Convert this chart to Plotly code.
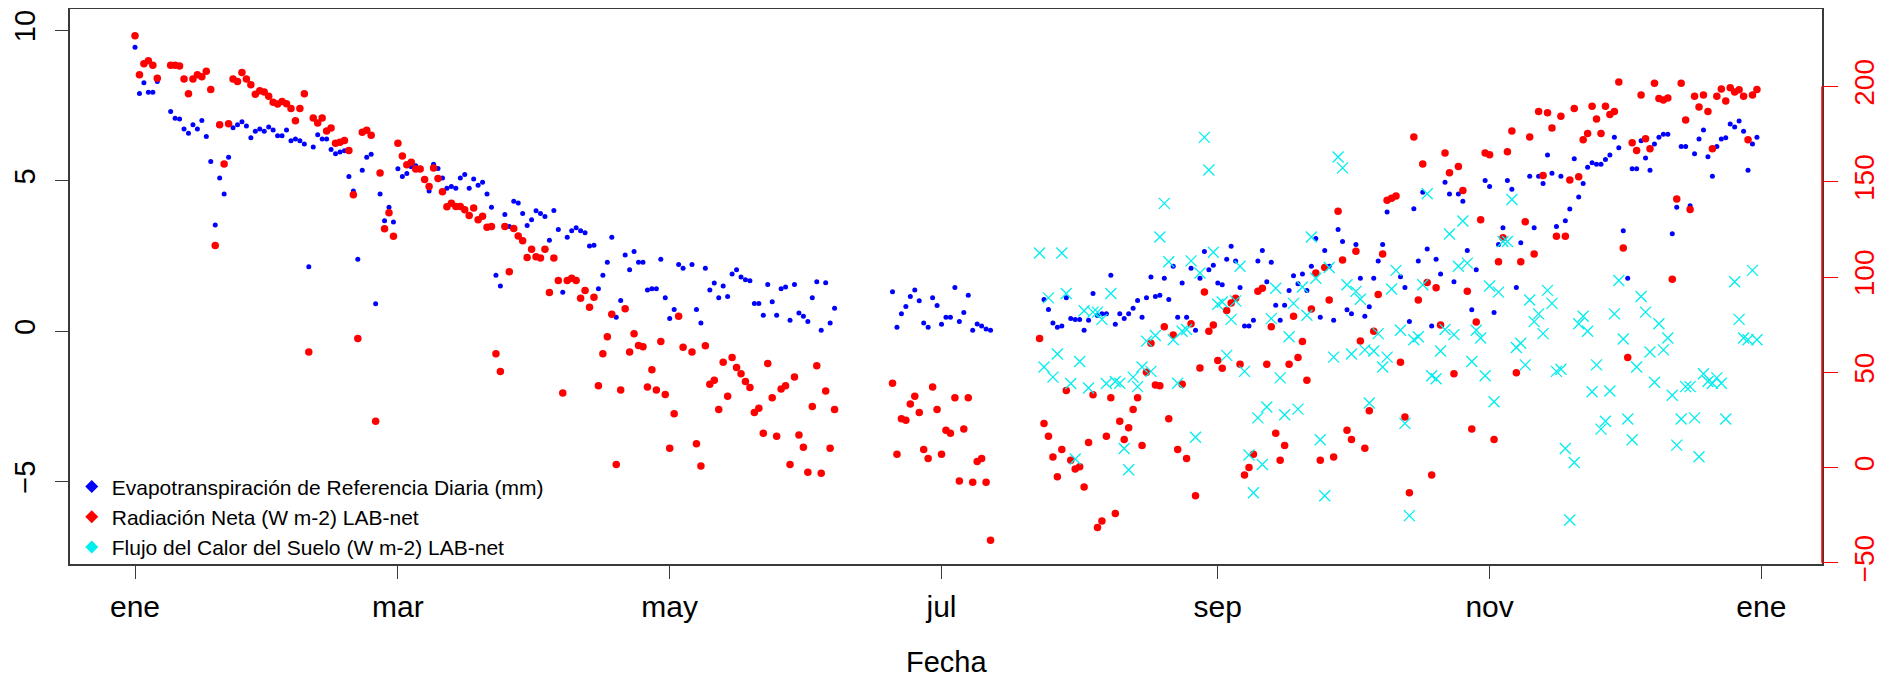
import pandas as pd
import plotly.graph_objects as go

# ---------------- data (day of year 0 = 1 Jan, value) ----------------
et_day = [0,1,2,3,4,5,
          8,9,10,11,12,13,14,15,16,17,18,19,20,21,22,23,24,25,26,27,28,29,30,31,32,33,34,35,36,37,38,39,40,
          41,42,43,44,45,46,47,48,49,50,51,52,53,54,55,56,57,58,59,60,61,62,63,64,
          66,67,68,69,70,71,72,73,74,75,76,77,78,79,80,81,82,83,84,85,86,87,88,89,90,91,92,93,94,95,
          96,97,98,99,100,101,102,103,104,105,106,107,108,109,110,111,112,113,114,115,116,117,118,119,
          120,121,122,123,125,126,127,128,129,130,131,132,133,134,135,136,137,138,139,140,141,142,143,
          144,145,146,147,148,149,150,151,152,153,154,155,156,157,
          170,171,172,173,174,175,176,177,178,179,180,181,182,183,184,185,186,187,188,189,190,191,192,
          204,205,206,207,208,209,210,211,212,213,214,215,216,217,218,219,220,221,222,223,224,225,226,
          227,228,229,230,231,232,233,234,235,236,237,238,239,240,241,242,243,244,245,246,247,248,249,
          250,251,252,253,254,255,256,257,258,259,260,261,262,263,264,265,266,267,268,269,270,271,272,
          273,274,275,276,277,278,279,280,281,284,285,286,287,288,289,290,291,292,293,294,295,296,297,
          298,299,300,301,303,304,305,306,307,308,309,310,311,313,314,315,316,317,318,319,320,321,322,
          323,324,325,326,327,328,329,330,331,332,333,334,335,336,337,338,339,340,341,342,343,344,345,
          346,347,348,349,350,351,352,353,354,355,356,357,358,359,360,361,362,363,364]
et_mm = [9.44,7.90,8.26,7.94,7.94,8.30,
         7.30,7.08,7.05,6.72,6.58,6.86,6.72,7.00,6.47,5.64,3.53,5.09,4.56,5.78,6.76,6.86,6.96,6.82,6.43,6.65,6.72,6.65,6.79,6.69,6.50,6.50,6.69,6.33,6.39,6.33,6.22,2.14,6.12,
         6.53,6.39,6.39,6.04,5.90,5.96,6.00,5.14,4.66,2.39,5.35,5.78,5.88,0.91,4.56,3.67,4.12,3.63,5.40,5.14,5.24,5.47,5.50,5.42,
         4.66,5.55,5.41,5.09,4.75,4.81,4.75,5.09,5.21,4.75,5.06,4.85,4.95,4.56,4.12,1.86,1.50,3.88,3.48,4.32,4.26,3.91,3.51,3.70,4.00,3.91,3.81,3.02,4.01,3.38,
         1.29,3.12,3.34,3.44,3.34,3.27,2.83,2.86,1.41,1.86,2.29,3.12,0.46,1.02,2.53,2.04,2.65,2.29,2.29,1.37,1.41,1.41,2.39,1.11,
         0.42,0.72,2.22,2.09,2.22,0.72,0.27,2.09,1.37,1.60,1.11,1.50,1.15,1.90,2.04,1.80,1.71,1.68,0.92,0.92,0.53,1.55,0.98,
         0.53,1.41,1.47,0.36,1.55,0.60,0.50,0.32,1.11,1.64,0.03,1.61,0.27,0.76,
         1.31,0.13,0.58,0.82,1.15,1.37,1.01,0.27,0.13,1.11,0.85,0.23,0.46,0.46,1.45,0.32,0.62,1.19,0.03,0.24,0.17,0.07,0.03,
         1.05,0.72,0.27,0.13,0.17,1.11,0.42,0.39,0.39,0.03,0.36,1.25,0.52,0.58,0.58,1.86,0.23,0.58,0.42,0.58,0.76,1.02,0.46,
         1.11,1.80,1.15,1.19,1.76,1.05,2.16,0.46,1.60,0.46,2.09,0.03,1.76,2.65,2.04,2.19,1.60,1.54,2.39,2.82,2.33,1.45,0.17,
         0.17,0.36,2.33,2.68,1.64,2.29,0.86,0.36,0.86,1.35,1.84,1.58,1.90,1.35,2.16,3.08,0.46,2.68,2.16,0.36,3.38,2.98,0.71,
         0.58,2.88,1.76,0.50,0.81,1.76,2.33,2.88,3.96,1.81,1.45,0.32,4.07,2.33,4.62,2.73,0.17,2.39,1.90,4.95,4.56,1.64,4.56,
         4.32,2.68,0.71,2.04,5.01,4.81,0.62,2.88,3.44,5.01,4.72,1.45,2.94,5.15,3.44,5.15,4.91,5.86,5.25,3.48,5.15,3.67,4.06,
         5.73,4.46,4.91,5.45,5.60,5.55,5.55,5.71,5.86,6.45,6.10,3.34,1.76,5.40,5.40,6.33,5.76,5.35,6.22,6.45,6.55,6.55,3.24,
         4.12,6.14,6.14,4.17,5.90,6.39,6.69,5.80,5.15,6.14,6.39,6.43,6.89,6.79,6.99,6.65,5.35,6.22,6.45]

rn_day = [0,1,2,3,4,5,
          8,9,10,11,12,13,14,15,16,17,18,19,20,21,22,23,24,25,26,27,28,29,30,31,32,33,34,35,36,37,38,39,40,
          41,42,43,44,45,46,47,48,49,50,51,52,53,54,55,56,57,58,59,60,61,62,63,64,65,66,67,68,69,70,
          71,72,73,74,75,76,77,78,79,80,81,82,83,84,85,86,87,88,89,90,91,92,93,94,95,96,97,98,99,100,
          101,102,103,104,105,106,107,108,109,110,111,112,113,114,115,116,117,118,119,120,121,122,123,
          125,126,127,128,129,130,131,132,133,134,135,136,137,138,139,140,141,142,143,144,145,146,147,
          148,149,150,151,152,153,154,155,156,157,
          170,171,172,173,174,175,176,177,178,179,180,181,182,183,184,185,186,187,188,189,190,191,192,
          203,204,205,206,207,208,209,210,211,212,213,214,215,216,217,218,219,220,221,222,223,224,225,
          226,227,228,229,230,231,232,233,234,235,236,237,238,239,240,241,242,243,244,245,246,247,248,
          249,250,251,252,253,254,255,256,257,258,259,260,261,262,263,264,265,266,267,268,269,270,271,
          272,273,274,275,276,277,278,279,280,281,282,283,284,285,286,287,288,289,290,291,292,293,294,
          295,296,297,298,299,300,301,302,303,304,305,306,307,308,309,310,311,312,313,314,315,316,317,
          318,319,320,321,322,323,324,325,326,327,328,329,330,331,332,333,334,335,336,337,338,339,340,
          341,342,343,344,345,346,347,348,349,350,351,352,353,354,355,356,357,358,359,360,361,362,363,364]
rn_wm2 = [226.7,206.2,211.9,213.5,211.2,204.4,
          211.2,211.2,210.8,204.0,196.2,204.0,206.2,205.1,208.0,198.5,116.6,179.9,159.4,180.5,204.0,202.6,207.4,204.0,201.0,196.0,197.8,197.1,194.9,191.7,190.8,192.1,191.0,188.5,182.1,188.5,196.2,60.7,183.5,
          180.8,183.5,176.7,178.3,170.3,170.8,171.7,166.4,143.2,67.8,176.0,177.1,174.4,24.3,154.6,125.3,133.7,121.4,170.3,163.5,158.9,160.3,156.7,156.7,151.2,147.6,157.3,151.7,144.8,136.9,
          138.7,137.1,137.1,135.3,132.3,136.2,130.1,131.9,126.2,126.6,59.8,50.5,126.6,102.8,125.5,121.6,119.1,110.3,114.6,110.7,110.0,114.6,91.9,110.0,98.2,39.1,98.2,99.4,98.2,88.9,
          93.0,84.1,89.4,43.0,59.8,68.7,80.5,1.6,40.7,83.4,60.7,70.3,64.1,63.4,42.3,51.4,40.7,66.2,38.4,10.2,28.2,79.4,63.2,
          60.7,12.5,0.9,63.9,43.7,45.9,30.5,55.3,37.5,57.8,52.5,49.3,45.2,42.1,28.9,31.2,18.0,54.6,36.6,16.4,41.2,43.0,1.6,
          47.5,17.1,10.7,-2.5,32.1,53.4,-3.0,40.2,10.2,30.5,
          44.3,7.0,25.7,24.8,33.4,37.5,28.9,9.5,4.8,42.3,30.5,7.0,19.6,18.0,36.6,-7.0,20.2,36.6,-7.7,3.2,4.8,-7.7,-38.2,
          67.8,23.2,16.4,5.5,-4.8,9.5,40.5,3.9,-0.7,0.5,-10.2,13.2,38.2,-31.4,-28.0,16.4,36.6,-24.1,24.3,14.8,20.9,30.5,36.6,
          11.6,50.0,65.3,43.4,43.0,73.9,25.7,69.6,9.5,43.7,4.8,75.5,-14.8,52.3,92.1,71.6,74.8,56.2,52.1,82.5,86.4,88.9,54.3,
          -3.9,0.0,7.0,92.5,94.1,54.3,73.9,18.0,3.9,11.6,54.3,79.4,57.8,66.2,45.9,83.2,102.1,3.9,105.0,88.0,5.5,134.6,108.9,
          19.6,14.8,113.5,66.4,10.2,29.8,71.6,90.9,112.1,140.3,141.4,142.6,55.3,26.6,-13.2,173.5,88.0,159.4,97.1,-3.9,94.4,74.8,165.1,
          154.8,49.3,158.0,145.5,92.5,20.2,76.4,130.1,165.1,164.2,14.8,108.0,120.7,165.8,176.7,49.8,108.0,129.1,173.5,112.1,186.9,153.3,186.2,
          178.3,121.4,184.4,121.4,151.0,188.5,152.6,172.1,175.3,189.6,183.0,175.3,189.6,185.3,186.9,202.4,115.3,57.8,170.5,166.4,195.5,172.6,167.3,
          201.7,193.7,193.0,194.0,98.9,141.0,201.7,182.4,135.5,194.9,189.2,195.5,186.9,167.3,194.9,198.7,192.4,199.4,197.1,198.3,194.9,172.1,195.5,198.5]

g_day = [203,204,205,206,207,208,209,210,211,212,213,214,215,216,217,218,219,220,221,222,223,224,225,
         226,227,228,229,230,231,232,233,234,235,236,237,238,239,240,241,242,243,244,245,246,247,248,
         249,250,251,252,253,254,255,256,257,258,259,260,261,262,263,264,265,266,267,268,269,270,271,
         272,273,274,275,276,277,278,279,280,281,282,283,284,285,286,287,288,289,290,291,292,293,294,
         295,296,297,298,299,300,301,302,303,304,305,306,307,308,309,310,311,312,313,314,315,316,317,
         318,319,320,321,322,323,324,325,326,327,328,329,330,331,332,333,334,335,336,337,338,339,340,
         341,342,343,344,345,346,347,348,349,350,351,352,353,354,355,356,357,359,360,361,362,363,364]
g_wm2 = [112.6,52.8,89.1,47.5,59.6,112.6,91.4,44.1,4.5,55.7,82.3,41.8,81.6,81.6,77.8,44.1,91.4,45.2,44.3,10.0,-1.1,47.5,42.5,
         52.8,66.4,50.5,69.3,121.0,138.7,108.0,67.1,44.3,71.6,72.5,108.5,15.9,102.1,173.3,156.2,113.0,85.7,86.9,58.9,77.8,87.5,105.7,
         50.5,6.6,-13.2,26.1,1.6,31.8,78.2,94.1,47.1,27.7,68.7,86.2,30.7,94.8,80.0,121.0,99.4,14.6,-14.8,105.0,58.0,163.0,157.3,
         96.0,59.6,92.5,88.4,61.8,33.9,61.2,70.3,52.8,58.0,93.7,103.5,72.1,23.2,-25.2,67.1,68.7,96.0,143.7,48.2,46.6,61.2,72.5,
         122.6,69.8,105.7,129.4,107.3,55.7,72.1,68.0,48.2,95.3,34.6,92.1,118.7,118.7,140.7,63.0,65.3,53.9,88.0,76.6,80.7,70.3,93.0,
         86.2,50.5,51.6,10.0,-27.5,2.7,75.5,79.4,71.6,39.8,53.9,20.2,24.3,40.2,80.7,98.2,67.5,25.5,14.6,52.8,89.8,81.6,60.7,
         44.8,75.5,61.8,68.0,38.0,11.8,25.5,42.5,42.5,26.1,5.7,49.3,45.2,44.3,47.1,44.3,25.5,97.5,77.8,68.0,67.1,103.5,67.1]

month_ticks = ["2015-01-01", "2015-03-01", "2015-05-01", "2015-07-01",
               "2015-09-01", "2015-11-01", "2016-01-01"]
month_labels = ["ene", "mar", "may", "jul", "sep", "nov", "ene"]

names = ["Evapotranspiración de Referencia Diaria (mm)",
         "Radiación Neta (W m-2) LAB-net",
         "Flujo del Calor del Suelo (W m-2) LAB-net"]

# ---------------- figure ----------------
base = pd.Timestamp("2015-01-01")
def to_dates(days):
    return base + pd.to_timedelta(days, unit="D")

BLUE, RED, CYAN = "#0000FF", "#FF0000", "#00EEEE"
FONT = "Liberation Sans, Arial, sans-serif"

fig = go.Figure()
fig.add_trace(go.Scatter(x=to_dates(et_day), y=et_mm, mode="markers", yaxis="y",
                         marker=dict(color=BLUE, size=5, symbol="circle"),
                         showlegend=False))
fig.add_trace(go.Scatter(x=to_dates(rn_day), y=rn_wm2, mode="markers", yaxis="y2",
                         marker=dict(color=RED, size=7.5, symbol="circle"),
                         showlegend=False))
fig.add_trace(go.Scatter(x=to_dates(g_day), y=g_wm2, mode="markers", yaxis="y2",
                         marker=dict(symbol="x-thin", size=11,
                                     line=dict(color=CYAN, width=1.3)),
                         showlegend=False))
# legend entries (diamonds, as in the original legend)
for nm, col in zip(names, [BLUE, RED, CYAN]):
    fig.add_trace(go.Scatter(x=[None], y=[None], mode="markers", name=nm,
                             marker=dict(color=col, size=10, symbol="diamond"),
                             legendgroup=nm))

x0 = base - pd.Timedelta(days=14.59)
x1 = base + pd.Timedelta(days=378.6)

AX = "#3a3a3a"
fig.update_layout(
    width=1873, height=676,
    margin=dict(l=62, r=59, t=0.5, b=120),
    paper_bgcolor="white", plot_bgcolor="white",
    font=dict(family=FONT, color="black"),
    xaxis=dict(type="date", range=[x0, x1], tickmode="array",
               tickvals=month_ticks, ticktext=month_labels,
               ticks="outside", ticklen=13, tickwidth=1.3, tickcolor=AX,
               ticklabelstandoff=2,
               tickfont=dict(size=30, family=FONT, color="black"),
               showline=True, mirror=True, linecolor=AX, linewidth=1.5,
               showgrid=False, zeroline=False, automargin=False),
    yaxis=dict(range=[-7.74, 10.71], tickmode="array", tickvals=[-5, 0, 5, 10],
               ticks="outside", ticklen=13, tickwidth=1.3, tickcolor=AX,
               tickangle=-90, ticklabelstandoff=9,
               tickfont=dict(size=29, family=FONT, color="black"),
               showline=True, mirror=True, linecolor=AX, linewidth=1.5,
               showgrid=False, zeroline=False, automargin=False),
    yaxis2=dict(range=[-50.6, 240.7], overlaying="y", side="right",
                tickmode="array", tickvals=[-50, 0, 50, 100, 150, 200],
                ticks="outside", ticklen=15, tickwidth=1.3, tickcolor=RED,
                tickangle=-90, ticklabelstandoff=2,
                tickfont=dict(size=28, family=FONT, color=RED),
                showline=False, showgrid=False, zeroline=False, automargin=False),
    legend=dict(x=0.001, y=0.176, xanchor="left", yanchor="top",
                bgcolor="rgba(0,0,0,0)", borderwidth=0,
                font=dict(size=21, family=FONT, color="black"),
                tracegroupgap=0),
    annotations=[dict(text="Fecha", xref="paper", yref="paper", x=0.5, y=-0.176,
                      xanchor="center", yanchor="middle", showarrow=False,
                      font=dict(size=29, family=FONT, color="black"))],
    shapes=[dict(type="line", xref="paper", yref="y2", x0=1, x1=1, y0=-50, y1=200,
                 line=dict(color=RED, width=1.5))],
)

fig.write_html("out.html")
